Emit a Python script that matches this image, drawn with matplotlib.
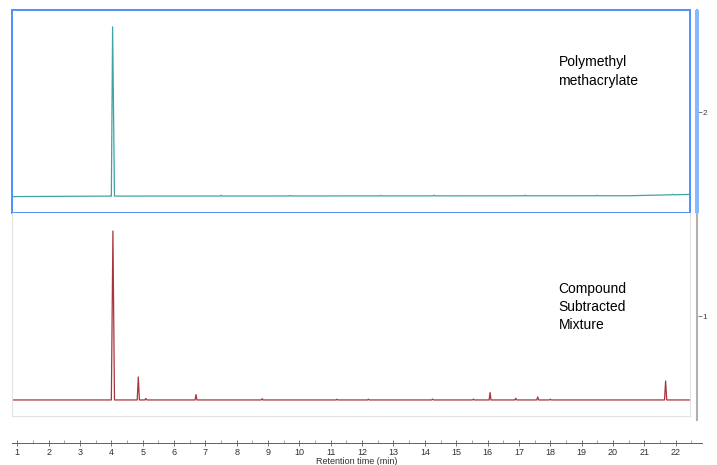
import numpy as np
import matplotlib
matplotlib.use("Agg")
import matplotlib.pyplot as plt

plt.rcParams['font.family'] = ['Liberation Sans', 'DejaVu Sans']

# peak lists: retention time (min), height (% of main peak), half base width (min)
pmma_rt = [4.04, 7.5, 9.7, 12.6, 14.3, 17.2, 19.5, 21.9]
pmma_h = [100.0, 0.4, 0.3, 0.3, 0.4, 0.4, 0.3, 0.3]
pmma_w = [0.06, 0.03, 0.03, 0.03, 0.03, 0.03, 0.03, 0.03]
pmma_base_t = [0.83, 4.0, 20.5, 22.46]
pmma_base_y = [-0.3, 0.0, 0.2, 1.0]

mix_rt = [4.05, 4.86, 5.10, 6.70, 8.81, 11.2, 12.2, 14.25, 15.55, 16.08, 16.9, 17.6, 18.0, 21.68]
mix_h = [100.0, 13.6, 0.9, 3.2, 0.7, 0.4, 0.4, 0.5, 0.5, 4.4, 1.0, 1.8, 0.4, 11.2]
mix_w = [0.05, 0.035, 0.03, 0.03, 0.03, 0.03, 0.03, 0.03, 0.03, 0.03, 0.03, 0.03, 0.03, 0.035]
mix_base_t = [0.83, 22.46]
mix_base_y = [0.0, 0.0]

x_ticks = list(range(1, 23))
track_labels = ['2', '1']


def build_trace(base_t, base_y, rts, hs, ws):
    t = list(base_t)
    y = list(base_y)
    for rt, h, w in zip(rts, hs, ws):
        b = np.interp(rt, base_t, base_y)
        t += [rt - w, rt, rt + w]
        y += [b, b + h, b]
    order = np.argsort(t)
    return np.array(t)[order], np.array(y)[order]


W, H = 717, 465
fig = plt.figure(figsize=(W / 100, H / 100), dpi=100)
x0, x1 = 0.831, 22.458

# top track (selected, blue frame)
ax1 = fig.add_axes([12 / W, 1 - 213 / H, 678 / W, 203 / H])
t, y = build_trace(pmma_base_t, pmma_base_y, pmma_rt, pmma_h, pmma_w)
ax1.plot(t, y, color='#3fa3a3', lw=0.9)
ax1.set_xlim(x0, x1)
ax1.set_ylim(-10, 110)
ax1.set_xticks([])
ax1.set_yticks([])
for s in ax1.spines.values():
    s.set_color('#4d90fe')
    s.set_linewidth(1.4)
ax1.text(0.806, 0.697, 'Polymethyl\nmethacrylate', transform=ax1.transAxes,
         fontsize=10, va='center', ha='left', linespacing=1.4)

# bottom track
ax2 = fig.add_axes([12 / W, 1 - 416 / H, 678 / W, 203 / H])
t, y = build_trace(mix_base_t, mix_base_y, mix_rt, mix_h, mix_w)
ax2.plot(t, y, color='#a8353d', lw=0.9)
ax2.set_xlim(x0, x1)
ax2.set_ylim(-9.5, 110.65)
ax2.set_xticks([])
ax2.set_yticks([])
for s in ax2.spines.values():
    s.set_color('#e2e2e2')
    s.set_linewidth(0.8)
ax2.spines['top'].set_visible(False)
ax2.text(0.806, 0.537, 'Compound\nSubtracted\nMixture', transform=ax2.transAxes,
         fontsize=10, va='center', ha='left', linespacing=1.4)

# track index axis on the right
axr = fig.add_axes([697 / W, 1 - 420 / H, 0.001, 410 / H])
axr.set_ylim(420, 10)
axr.patch.set_visible(False)
for k in ['top', 'bottom', 'right']:
    axr.spines[k].set_visible(False)
axr.spines['left'].set_color('#b0b0b0')
axr.spines['left'].set_linewidth(1.5)
axr.set_xticks([])
axr.set_yticks([112, 316])
axr.set_yticklabels(track_labels)
axr.tick_params(axis='y', left=False, right=True, labelleft=False, labelright=True,
                length=3, width=0.6, color='#606060', labelsize=6, pad=0.5, labelcolor='#404040')
fig.patches.append(plt.Rectangle((695 / W, 1 - 213 / H), 4 / W, 203 / H,
                                 transform=fig.transFigure, color='#8ab8ff', lw=0))

# retention time axis
axx = fig.add_axes([12 / W, 1 - 443 / H, 690 / W, 0.0001])
axx.patch.set_visible(False)
for k in ['top', 'left', 'right']:
    axx.spines[k].set_visible(False)
axx.spines['bottom'].set_color('#606060')
axx.spines['bottom'].set_linewidth(0.7)
axx.set_yticks([])
axx.set_xticks(x_ticks)
axx.set_xticks(np.arange(1.5, 23, 1.0), minor=True)
axx.set_xlim(x0, 0.831 + 690 / 31.35)
axx.tick_params(axis='x', which='major', direction='inout', length=5, width=0.6,
                color='#606060', labelsize=6.5, pad=1, labelcolor='#303030')
axx.tick_params(axis='x', which='minor', direction='in', length=2, width=0.5, color='#808080')
axx.set_xlabel('Retention time (min)', fontsize=6.5, labelpad=0, color='#303030')

fig.savefig('out.png', dpi=100)
